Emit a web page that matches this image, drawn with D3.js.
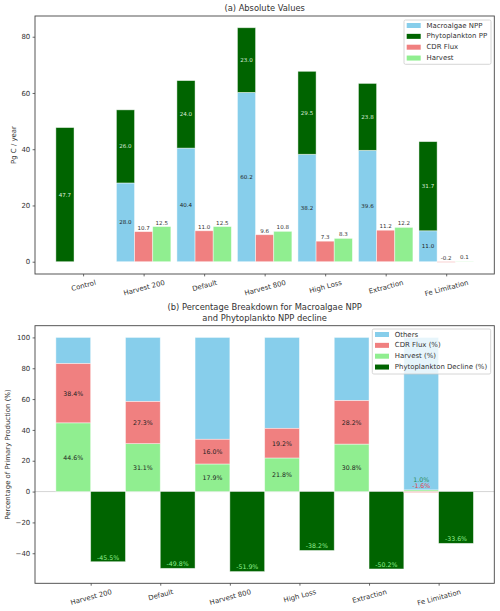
<!DOCTYPE html>
<html><head><meta charset="utf-8">
<script src="https://cdn.jsdelivr.net/npm/d3@7"></script>
<style>body{margin:0;background:#fff}svg{display:block;font-family:'DejaVu Sans',sans-serif}</style>
</head><body><svg id="c" width="500" height="611"></svg>
<script>
// ---------- data ----------
const categoriesA = ["Control","Harvest 200","Default","Harvest 800","High Loss","Extraction","Fe Limitation"];
const macroalgaeNPP = [0, 28.0, 40.4, 60.2, 38.2, 39.6, 11.0];
const phytoPP = [47.7, 26.0, 24.0, 23.0, 29.5, 23.8, 31.7];
const cdrFlux = [null, 10.7, 11.0, 9.6, 7.3, 11.2, -0.2];
const harvestA = [null, 12.5, 12.5, 10.8, 8.3, 12.2, 0.1];
const ticksA = [0, 20, 40, 60, 80];

const categoriesB = ["Harvest 200","Default","Harvest 800","High Loss","Extraction","Fe Limitation"];
const harvestPct = [44.6, 31.1, 17.9, 21.8, 30.8, 1.0];
const cdrPct = [38.4, 27.3, 16.0, 19.2, 28.2, -1.6];
const phytoDeclinePct = [-45.5, -49.8, -51.9, -38.2, -50.2, -33.6];
const ticksB = [-40, -20, 0, 20, 40, 60, 80, 100];

const legendA = ["Macroalgae NPP","Phytoplankton PP","CDR Flux","Harvest"];
const legendB = ["Others","CDR Flux (%)","Harvest (%)","Phytoplankton Decline (%)"];

// ---------- style ----------
const C = {blue:"#87ceeb", dgreen:"#006400", coral:"#f08080", lgreen:"#90ee90"};
const FS = 6.94, FT = 8.33, FA = 5.56, FB = 6.25;
const svg = d3.select("#c");
const MINUS = "\u2212";

function frame(g, x0, x1, y0, y1) {
  g.append("rect").attr("x", x0).attr("y", y0).attr("width", x1 - x0).attr("height", y1 - y0)
    .attr("fill", "none").attr("stroke", "#444").attr("stroke-width", 0.9);
}
function yAxis(g, y, ticks, x0) {
  const ax = g.append("g").attr("transform", `translate(${x0},0)`)
    .call(d3.axisLeft(y).tickValues(ticks).tickSize(2.4).tickPadding(2.4)
      .tickFormat(d => (d < 0 ? MINUS + Math.abs(d) : d)));
  ax.select(".domain").remove();
  ax.selectAll("line").attr("stroke", "#444").attr("stroke-width", 0.8);
  ax.selectAll("text").attr("font-size", FS).attr("fill", "#333").attr("font-family", "DejaVu Sans");
}
function xAxis(g, x, cats, yb) {
  const ax = g.append("g").attr("transform", `translate(0,${yb})`)
    .call(d3.axisBottom(x).tickValues(d3.range(cats.length)).tickSize(2.4).tickFormat(i => cats[i]));
  ax.select(".domain").remove();
  ax.selectAll("line").attr("stroke", "#444").attr("stroke-width", 0.8);
  const a = 15 * Math.PI / 180;
  ax.selectAll("text").attr("font-size", FS).attr("fill", "#333").attr("font-family", "DejaVu Sans")
    .attr("text-anchor", "middle").attr("dominant-baseline", "central").attr("dy", null).attr("y", 0)
    .each(function () {
      const w = this.getComputedTextLength();
      const h = FS * 1.16;
      const bh = w * Math.sin(a) + h * Math.cos(a);
      d3.select(this).attr("transform", `translate(0,${4.8 + bh / 2}) rotate(-15)`);
    });
}
function legend(g, x0, x1, y0, y1, names, colors) {
  g.append("rect").attr("x", x0).attr("y", y0).attr("width", x1 - x0).attr("height", y1 - y0)
    .attr("rx", 1.5).attr("fill", "white").attr("fill-opacity", 0.8).attr("stroke", "#cccccc").attr("stroke-width", 0.8);
  names.forEach((n, k) => {
    const cy = y0 + 5.5 + k * 10.85;
    g.append("rect").attr("x", x0 + 2.7).attr("y", cy - 2.5).attr("width", 14).attr("height", 5).attr("fill", colors[k]);
    g.append("text").attr("x", x0 + 22.5).attr("y", cy).attr("dominant-baseline", "central")
      .attr("font-size", FS).attr("fill", "#333").text(n);
  });
}
function bar(g, xl, xr, ya, yb, fill) {
  g.append("rect").attr("x", xl).attr("y", Math.min(ya, yb)).attr("width", xr - xl)
    .attr("height", Math.abs(yb - ya)).attr("fill", fill)
    .attr("stroke", "white").attr("stroke-opacity", 0.55).attr("stroke-width", 0.8);
}

// ---------- panel (a) ----------
{
  const L = 35, R = 494.3, T = 16, B = 274;
  const g = svg.append("g");
  const x = d3.scaleLinear().domain([-0.795, categoriesA.length - 1 + 0.795]).range([L, R]);
  const allMax = d3.max(categoriesA.map((c, i) => macroalgaeNPP[i] + phytoPP[i]));
  const allMin = d3.min(cdrFlux.filter(v => v != null).concat([0]));
  const pad = (allMax - allMin) * 0.05;
  const y = d3.scaleLinear().domain([allMin - pad, allMax + pad]).range([B, T]);
  const w = 0.3;
  categoriesA.forEach((c, i) => {
    const xs = i - w;
    if (macroalgaeNPP[i] > 0) {
      bar(g, x(xs - w / 2), x(xs + w / 2), y(0), y(macroalgaeNPP[i]), C.blue);
    }
    bar(g, x(xs - w / 2), x(xs + w / 2), y(macroalgaeNPP[i]), y(macroalgaeNPP[i] + phytoPP[i]), C.dgreen);
    if (macroalgaeNPP[i] > 0) {
      g.append("text").attr("x", x(xs)).attr("y", y(macroalgaeNPP[i] / 2)).attr("text-anchor", "middle")
        .attr("dominant-baseline", "central").attr("font-size", FA).attr("fill", "#222").text(macroalgaeNPP[i].toFixed(1));
    }
    g.append("text").attr("x", x(xs)).attr("y", y(macroalgaeNPP[i] + phytoPP[i] / 2)).attr("text-anchor", "middle")
      .attr("dominant-baseline", "central").attr("font-size", FA).attr("fill", "#dcecdc").text(phytoPP[i].toFixed(1));
    [[cdrFlux, i, C.coral], [harvestA, i + w, C.lgreen]].forEach(([arr, xc, col]) => {
      const v = arr[i];
      if (v == null) return;
      bar(g, x(xc - w / 2), x(xc + w / 2), y(0), y(v), col);
      g.append("text").attr("x", x(xc)).attr("y", y(Math.max(v, 0)) - 2).attr("text-anchor", "middle")
        .attr("font-size", FA).attr("fill", "#333").text(v.toFixed(1));
    });
  });
  frame(g, L, R, T, B);
  yAxis(g, y, ticksA, L);
  xAxis(g, x, categoriesA, B);
  g.append("text").attr("transform", `translate(14,${(T + B) / 2}) rotate(-90)`).attr("text-anchor", "middle")
    .attr("dominant-baseline", "central").attr("font-size", FS).attr("fill", "#333").text("Pg C / year");
  g.append("text").attr("x", (L + R) / 2).attr("y", 11).attr("text-anchor", "middle")
    .attr("font-size", FT).attr("fill", "#333").text("(a) Absolute Values");
  legend(g, 404, 491, 20, 64.3, legendA, [C.blue, C.dgreen, C.coral, C.lgreen]);
}

// ---------- panel (b) ----------
{
  const L = 35, R = 494.3, T = 325.7, B = 583.3;
  const g = svg.append("g");
  const x = d3.scaleLinear().domain([-0.8, categoriesB.length - 1 + 0.8]).range([L, R]);
  const mn = d3.min(phytoDeclinePct), mx = 100;
  const pad = (mx - mn) * 0.05;
  const y = d3.scaleLinear().domain([mn - pad, mx + pad]).range([B, T]);
  g.append("line").attr("x1", L).attr("x2", R).attr("y1", y(0)).attr("y2", y(0))
    .attr("stroke", "#cccccc").attr("stroke-width", 0.8);
  const w = 0.5;
  categoriesB.forEach((c, i) => {
    const xs = i - w / 2, xd = i + w / 2;
    const h = harvestPct[i], cf = cdrPct[i];
    const top = h + Math.max(cf, 0);
    bar(g, x(xs - w / 2), x(xs + w / 2), y(top), y(100), C.blue);
    bar(g, x(xs - w / 2), x(xs + w / 2), y(0), y(h), C.lgreen);
    if (cf >= 0) bar(g, x(xs - w / 2), x(xs + w / 2), y(h), y(h + cf), C.coral);
    else bar(g, x(xs - w / 2), x(xs + w / 2), y(0), y(h + cf), C.coral);
    if (h >= 5) {
      g.append("text").attr("x", x(xs)).attr("y", y(h / 2)).attr("text-anchor", "middle")
        .attr("dominant-baseline", "central").attr("font-size", FB).attr("fill", "#222").text(h.toFixed(1) + "%");
      g.append("text").attr("x", x(xs)).attr("y", y(h + cf / 2)).attr("text-anchor", "middle")
        .attr("dominant-baseline", "central").attr("font-size", FB).attr("fill", "#222").text(cf.toFixed(1) + "%");
    } else {
      g.append("text").attr("x", x(xs)).attr("y", y(h) - 7.6).attr("text-anchor", "middle")
        .attr("font-size", FB).attr("fill", "#2e8b57").text(h.toFixed(1) + "%");
      g.append("text").attr("x", x(xs)).attr("y", y(0) - 3.2).attr("text-anchor", "middle")
        .attr("font-size", FB).attr("fill", "#e0474c").text(cf.toFixed(1) + "%");
    }
    const d = phytoDeclinePct[i];
    bar(g, x(xd - w / 2), x(xd + w / 2), y(0), y(d), C.dgreen);
    g.append("text").attr("x", x(xd)).attr("y", y(d) - 2.2).attr("text-anchor", "middle")
      .attr("font-size", FB).attr("fill", C.lgreen).text(d.toFixed(1) + "%");
  });
  frame(g, L, R, T, B);
  yAxis(g, y, ticksB, L);
  xAxis(g, x, categoriesB, B);
  g.append("text").attr("transform", `translate(8.3,${(T + B) / 2}) rotate(-90)`).attr("text-anchor", "middle")
    .attr("dominant-baseline", "central").attr("font-size", FS).attr("fill", "#333").text("Percentage of Primary Production (%)");
  g.append("text").attr("x", (L + R) / 2).attr("y", 310.3).attr("text-anchor", "middle")
    .attr("font-size", FT).attr("fill", "#333").text("(b) Percentage Breakdown for Macroalgae NPP");
  g.append("text").attr("x", (L + R) / 2).attr("y", 320.7).attr("text-anchor", "middle")
    .attr("font-size", FT).attr("fill", "#333").text("and Phytoplankto NPP decline");
  legend(g, 372.3, 490.7, 329, 374, legendB, [C.blue, C.coral, C.lgreen, C.dgreen]);
}
</script></body></html>
